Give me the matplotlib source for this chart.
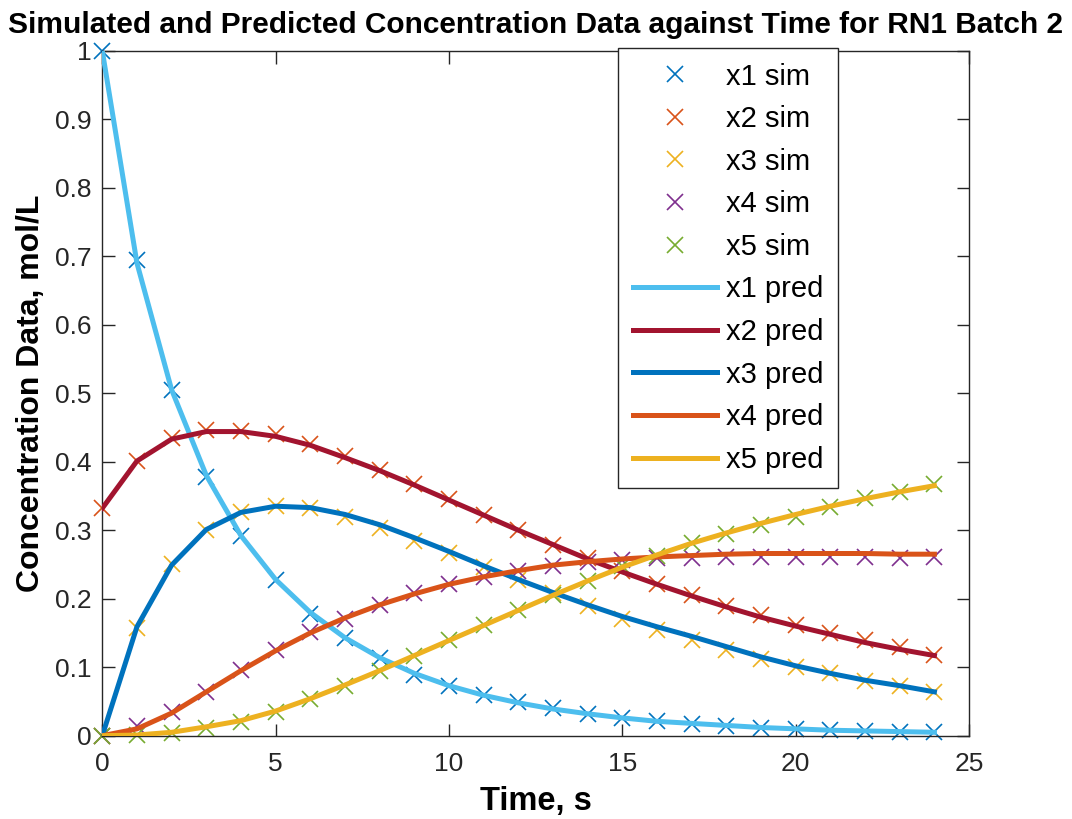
import numpy as np
import matplotlib
matplotlib.use("Agg")
import matplotlib.pyplot as plt

# matlab-ish look: arial-like font, dark gray axes, inward ticks on all sides
plt.rcParams.update({
    "font.family": ["Liberation Sans", "DejaVu Sans"],
    "axes.edgecolor": "#262626",
    "axes.linewidth": 1.0,
    "xtick.color": "#262626",
    "ytick.color": "#262626",
    "xtick.direction": "in",
    "ytick.direction": "in",
})

t = np.arange(0, 25)

# simulated data (markers)
x1_sim = [1.000, 0.695, 0.505, 0.378, 0.292, 0.227, 0.177, 0.142, 0.113, 0.089, 0.072, 0.059, 0.049,
          0.040, 0.032, 0.026, 0.022, 0.017, 0.014, 0.011, 0.010, 0.008, 0.007, 0.005, 0.005]
x2_sim = [0.332, 0.401, 0.435, 0.446, 0.445, 0.440, 0.426, 0.408, 0.388, 0.367, 0.345, 0.322, 0.300,
          0.279, 0.259, 0.240, 0.222, 0.206, 0.190, 0.176, 0.162, 0.150, 0.139, 0.130, 0.118]
x3_sim = [0.000, 0.157, 0.250, 0.300, 0.327, 0.335, 0.332, 0.320, 0.303, 0.284, 0.266, 0.247, 0.227,
          0.208, 0.189, 0.171, 0.155, 0.140, 0.125, 0.112, 0.101, 0.091, 0.080, 0.073, 0.064]
x4_sim = [0.000, 0.014, 0.035, 0.064, 0.096, 0.125, 0.151, 0.171, 0.191, 0.208, 0.221, 0.232, 0.241,
          0.248, 0.254, 0.257, 0.260, 0.260, 0.261, 0.261, 0.261, 0.261, 0.261, 0.260, 0.261]
x5_sim = [0.000, 0.001, 0.004, 0.011, 0.020, 0.034, 0.053, 0.073, 0.095, 0.116, 0.140, 0.162, 0.184,
          0.205, 0.226, 0.248, 0.262, 0.282, 0.294, 0.308, 0.320, 0.334, 0.347, 0.356, 0.367]

# model predictions (lines)
x1_pred = [1.000, 0.690, 0.505, 0.380, 0.292, 0.228, 0.180, 0.143, 0.114, 0.091, 0.073, 0.059, 0.048,
           0.039, 0.032, 0.026, 0.021, 0.018, 0.015, 0.012, 0.010, 0.008, 0.007, 0.006, 0.005]
x2_pred = [0.332, 0.401, 0.433, 0.444, 0.444, 0.437, 0.424, 0.406, 0.387, 0.366, 0.344, 0.322, 0.300,
           0.279, 0.258, 0.239, 0.221, 0.204, 0.188, 0.173, 0.160, 0.148, 0.136, 0.126, 0.117]
x3_pred = [0.000, 0.159, 0.249, 0.301, 0.326, 0.335, 0.333, 0.323, 0.308, 0.289, 0.269, 0.248, 0.228,
           0.209, 0.191, 0.174, 0.159, 0.145, 0.130, 0.115, 0.102, 0.091, 0.081, 0.073, 0.064]
x4_pred = [0.000, 0.010, 0.033, 0.064, 0.095, 0.124, 0.150, 0.172, 0.191, 0.207, 0.221, 0.232, 0.241,
           0.249, 0.254, 0.258, 0.261, 0.263, 0.265, 0.266, 0.266, 0.266, 0.266, 0.265, 0.265]
x5_pred = [0.000, 0.001, 0.005, 0.013, 0.022, 0.036, 0.054, 0.074, 0.095, 0.117, 0.139, 0.161, 0.183,
           0.205, 0.226, 0.246, 0.264, 0.281, 0.296, 0.310, 0.323, 0.335, 0.346, 0.356, 0.365]

sim_labels = ["x1 sim", "x2 sim", "x3 sim", "x4 sim", "x5 sim"]
pred_labels = ["x1 pred", "x2 pred", "x3 pred", "x4 pred", "x5 pred"]

# matlab default color order; pred lines use a shifted palette
SIM_COLORS = ["#0072BD", "#D95319", "#EDB120", "#7E2F8E", "#77AC30"]
PRED_COLORS = ["#4DBEEE", "#A2142F", "#0072BD", "#D95319", "#EDB120"]

fig = plt.figure(figsize=(10.72, 8.19), dpi=100)
ax = fig.add_axes([0.0954, 0.1017, 0.8086, 0.8364])

sims = [x1_sim, x2_sim, x3_sim, x4_sim, x5_sim]
preds = [x1_pred, x2_pred, x3_pred, x4_pred, x5_pred]

for y, c, lab in zip(sims, SIM_COLORS, sim_labels):
    ax.plot(t, y, linestyle="none", marker="x", markersize=12, markeredgewidth=1.2,
            color=c, label=lab, zorder=2, clip_on=False)
for y, c, lab in zip(preds, PRED_COLORS, pred_labels):
    ax.plot(t, y, color=c, linewidth=3.6, label=lab, zorder=3)

ax.set_xlim(0, 25)
ax.set_ylim(0, 1)
ax.set_xticks(np.arange(0, 26, 5))
ax.set_yticks(np.arange(0, 1.01, 0.1))
ax.set_yticklabels(["0", "0.1", "0.2", "0.3", "0.4", "0.5", "0.6", "0.7", "0.8", "0.9", "1"])
ax.tick_params(labelsize=19, length=9, width=1.0, top=True, right=True)
ax.tick_params(axis="x", pad=12)
ax.tick_params(axis="y", pad=8)

ax.set_title("Simulated and Predicted Concentration Data against Time for RN1 Batch 2",
             fontsize=21.5, fontweight="bold", pad=13)
ax.set_xlabel("Time, s", fontsize=23.5, fontweight="bold", labelpad=7)
ax.set_ylabel("Concentration Data, mol/L", fontsize=23, fontweight="bold", labelpad=6)

leg = ax.legend(loc="upper left", bbox_to_anchor=(0.595, 1.004), fontsize=21,
                frameon=True, fancybox=False, framealpha=1, edgecolor="#262626",
                handlelength=2.9, handletextpad=0.3, labelspacing=0.5,
                borderpad=0.5, borderaxespad=0)
leg.get_frame().set_linewidth(1.0)

fig.savefig("out.png", dpi=100)
